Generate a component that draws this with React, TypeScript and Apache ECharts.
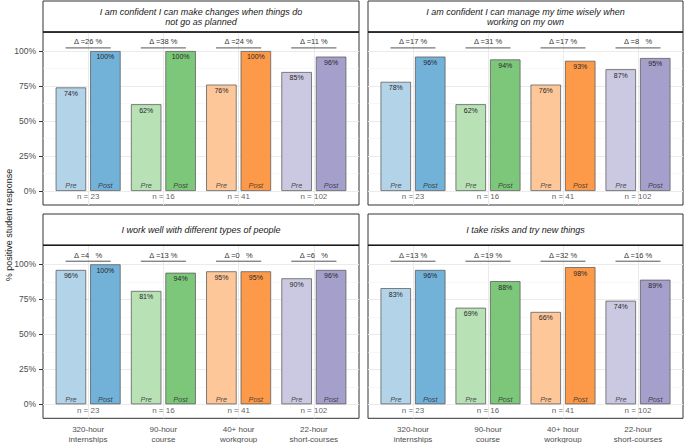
import React, { useEffect, useRef } from 'react';
import * as echarts from 'echarts';

const categories = ['320-hour\ninternships', '90-hour\ncourse', '40+ hour\nworkgroup', '22-hour\nshort-courses'];
const sampleSizes = [23, 16, 41, 102];

const panelTitles = [
  'I am confident I can make changes when things do\nnot go as planned',
  'I am confident I can manage my time wisely when\nworking on my own',
  'I work well with different types of people',
  'I take risks and try new things',
];

const prePanel1 = [74, 62, 76, 85];
const postPanel1 = [100, 100, 100, 96];
const deltaPanel1 = [26, 38, 24, 11];

const prePanel2 = [78, 62, 76, 87];
const postPanel2 = [96, 94, 93, 95];
const deltaPanel2 = [17, 31, 17, 8];

const prePanel3 = [96, 81, 95, 90];
const postPanel3 = [100, 94, 95, 96];
const deltaPanel3 = [4, 13, 0, 6];

const prePanel4 = [83, 69, 66, 74];
const postPanel4 = [96, 88, 98, 89];
const deltaPanel4 = [13, 19, 32, 16];

const yTicks = [0, 25, 50, 75, 100];
const yMinorTicks = [12.5, 37.5, 62.5, 87.5];

const preColors = ['#b3d3e9', '#b9e1b6', '#fdc79a', '#cbc9e2'];
const postColors = ['#72b1d8', '#7dc77b', '#fd9a4a', '#a59fcb'];

const FONT = '"Liberation Sans", Arial, Helvetica, sans-serif';

const panelData = [
  { pre: prePanel1, post: postPanel1, delta: deltaPanel1 },
  { pre: prePanel2, post: postPanel2, delta: deltaPanel2 },
  { pre: prePanel3, post: postPanel3, delta: deltaPanel3 },
  { pre: prePanel4, post: postPanel4, delta: deltaPanel4 },
];

// layout (pixels)
const panelBoxes = [
  { left: 43, width: 316, top: 32, headerTop: 1, showY: true, showX: false },
  { left: 368, width: 315, top: 32, headerTop: 1, showY: false, showX: false },
  { left: 43, width: 316, top: 245.3, headerTop: 214, showY: true, showX: true },
  { left: 368, width: 315, top: 245.3, headerTop: 214, showY: false, showX: true },
];
const PANEL_H = 173;
const Y_MIN = -10;
const Y_MAX = 113.57;

function deltaText(d: number) {
  return d < 10 ? `\u0394 =${d}   %` : `\u0394 =${d} %`;
}

export default function App() {
  const ref = useRef<HTMLDivElement>(null);

  useEffect(() => {
    if (!ref.current) return;
    const chart = echarts.init(ref.current, undefined, { renderer: 'svg' });

    const grids: any[] = [];
    const xAxes: any[] = [];
    const yAxes: any[] = [];
    const series: any[] = [];
    const graphics: any[] = [];

    panelBoxes.forEach((pb, i) => {
      const unit = pb.width / 4.2;
      const innerLeft = pb.left + 0.1 * unit;
      const innerWidth = 4 * unit;
      const outer = 2 * i;
      const inner = 2 * i + 1;
      const pd = panelData[i];

      grids.push({
        left: pb.left, top: pb.top, width: pb.width, height: PANEL_H,
        show: true, borderColor: '#333333', borderWidth: 1, backgroundColor: '#ffffff',
        outerBoundsMode: 'none', containLabel: false,
      });
      grids.push({
        left: innerLeft, top: pb.top, width: innerWidth, height: PANEL_H,
        show: false, outerBoundsMode: 'none', containLabel: false,
      });

      xAxes.push({ gridIndex: outer, type: 'value', min: 0, max: 1, show: false });
      xAxes.push({
        gridIndex: inner, type: 'category', data: categories, boundaryGap: true,
        axisLine: { show: false },
        axisTick: { show: pb.showX, alignWithLabel: true, length: 4, lineStyle: { color: '#333333', width: 1 } },
        axisLabel: { show: pb.showX, interval: 0, fontSize: 8, color: '#4d4d4d', lineHeight: 10, margin: 6, fontFamily: FONT },
        splitLine: { show: false },
      });

      yAxes.push({
        gridIndex: outer, type: 'value', min: Y_MIN, max: Y_MAX,
        axisLine: { show: false },
        splitLine: { show: false },
        axisTick: { show: pb.showY, customValues: yTicks, length: 4, lineStyle: { color: '#333333', width: 1 } },
        axisLabel: { show: pb.showY, customValues: yTicks, formatter: '{value}%', fontSize: 8.5, color: '#4d4d4d', margin: 7, fontFamily: FONT },
      });
      yAxes.push({ gridIndex: inner, type: 'value', min: Y_MIN, max: Y_MAX, show: false, splitLine: { show: false } });

      // horizontal grid lines
      series.push({
        type: 'line', xAxisIndex: outer, yAxisIndex: outer, data: [[0, Y_MIN - 5]],
        showSymbol: false, symbol: 'none', silent: true, z: 1,
        lineStyle: { opacity: 0 },
        markLine: {
          silent: true, symbol: 'none', z: 1, animation: false,
          label: { show: false },
          data: [
            ...yTicks.map((v) => ({ yAxis: v, lineStyle: { color: '#ebebeb', width: 1, type: 'solid' } })),
            ...yMinorTicks.map((v) => ({ yAxis: v, lineStyle: { color: '#f4f4f4', width: 0.6, type: 'solid' } })),
          ],
        },
      });

      // delta brackets + vertical grid lines
      series.push({
        type: 'custom', xAxisIndex: inner, yAxisIndex: inner, z: 7, silent: true,
        data: pd.delta.map((d, j) => [j, d]),
        encode: { x: 0, y: 1 },
        renderItem: (params: any, api: any) => {
          const idx = api.value(0);
          const d = api.value(1);
          const lp = api.coord([idx, 102.2]);
          const tp = api.coord([idx, 106.5]);
          const half = api.size([1, 0])[0] * 0.3;
          return {
            type: 'group',
            children: [
              { type: 'line', shape: { x1: lp[0] - half, y1: lp[1], x2: lp[0] + half, y2: lp[1] }, style: { stroke: '#555555', lineWidth: 1 } },
              {
                type: 'text', x: tp[0], y: tp[1],
                style: { text: deltaText(d), align: 'center', verticalAlign: 'middle', textAlign: 'center', textVerticalAlign: 'middle', fontSize: 7.5, fontFamily: FONT, fill: '#333333' },
              },
            ],
          };
        },
        markLine: {
          silent: true, symbol: 'none', z: 1, animation: false,
          label: { show: false },
          lineStyle: { color: '#ebebeb', width: 1, type: 'solid' },
          data: categories.map((_, j) => ({ xAxis: j })),
        },
      });

      const barCommon = {
        type: 'bar', xAxisIndex: inner, yAxisIndex: inner, barWidth: 30.5, barGap: '13%', z: 6,
        label: { show: true, position: 'insideTop', distance: 2.5, formatter: '{c}%', fontSize: 7, color: '#262626', fontFamily: FONT },
      };
      series.push({
        ...barCommon, name: 'Pre',
        data: pd.pre.map((v, j) => ({ value: v, itemStyle: { color: preColors[j], borderColor: '#5f5f5f', borderWidth: 0.8 } })),
      });
      series.push({
        ...barCommon, name: 'Post',
        data: pd.post.map((v, j) => ({ value: v, itemStyle: { color: postColors[j], borderColor: '#5f5f5f', borderWidth: 0.8 } })),
      });

      const labelScatter = (text: string, dx: number) => ({
        type: 'scatter', xAxisIndex: inner, yAxisIndex: inner, symbolSize: 0, z: 8, silent: true,
        data: categories.map(() => 0),
        label: { show: true, position: 'top', distance: 1.5, offset: [dx, 0], formatter: text, fontSize: 7.3, fontStyle: 'italic', color: '#262626', fontFamily: FONT },
      });
      series.push(labelScatter('Pre', -17.2));
      series.push(labelScatter('Post', 17.2));

      series.push({
        type: 'scatter', xAxisIndex: inner, yAxisIndex: inner, symbolSize: 0, z: 8, silent: true,
        data: categories.map(() => 0),
        label: {
          show: true, position: 'bottom', distance: 2,
          formatter: (p: any) => `n = ${sampleSizes[p.dataIndex]}`,
          fontSize: 8, color: '#333333', fontFamily: FONT,
        },
      });

      // header strip
      graphics.push({
        type: 'rect', shape: { x: pb.left, y: pb.headerTop, width: pb.width, height: pb.top - pb.headerTop },
        style: { fill: '#ffffff', stroke: '#333333', lineWidth: 1 }, z: 10,
      });
      graphics.push({
        type: 'line', shape: { x1: pb.left, y1: pb.top, x2: pb.left + pb.width, y2: pb.top },
        style: { stroke: '#1a1a1a', lineWidth: 1.6 }, z: 11,
      });
      graphics.push({
        type: 'text', x: pb.left + pb.width / 2, y: (pb.headerTop + pb.top) / 2 + 0.5, z: 12,
        style: {
          text: panelTitles[i], fill: '#1a1a1a', fontSize: 9, fontStyle: 'italic', fontFamily: FONT,
          align: 'center', verticalAlign: 'middle', textAlign: 'center', textVerticalAlign: 'middle', lineHeight: 9.7,
        },
      });
    });

    graphics.push({
      type: 'text', x: 9, y: 225, rotation: Math.PI / 2, z: 12,
      style: {
        text: '% positive student response', fill: '#1a1a1a', fontSize: 9, fontFamily: FONT,
        align: 'center', verticalAlign: 'middle', textAlign: 'center', textVerticalAlign: 'middle',
      },
    });

    chart.setOption({
      animation: false,
      backgroundColor: '#ffffff',
      textStyle: { fontFamily: FONT },
      grid: grids,
      xAxis: xAxes,
      yAxis: yAxes,
      series,
      graphic: graphics,
    });

    return () => chart.dispose();
  }, []);

  return <div ref={ref} style={{ position: 'absolute', left: 0, top: 0, width: 685, height: 443 }} />;
}
